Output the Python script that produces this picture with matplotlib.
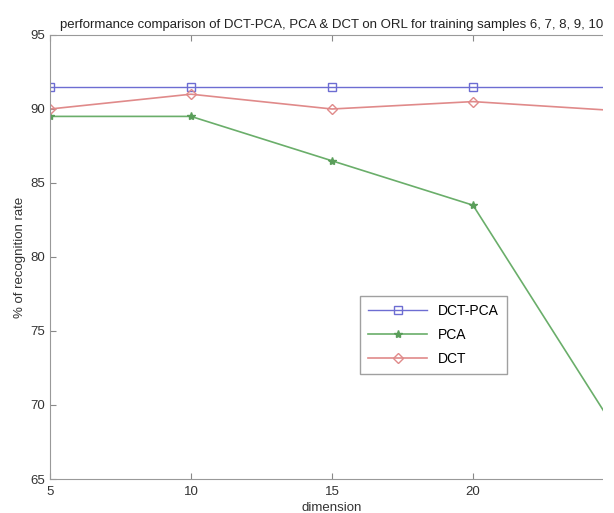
import matplotlib
matplotlib.use("Agg")
from matplotlib import pyplot as plt
from matplotlib.patches import Rectangle

plt.rcParams['font.family'] = ['Liberation Sans', 'DejaVu Sans']

# data
dims = [5, 10, 15, 20, 25]
dct_pca = [91.5, 91.5, 91.5, 91.5, 91.5]
pca = [89.5, 89.5, 86.5, 83.5, 68.5]
dct = [90.0, 91.0, 90.0, 90.5, 89.9]
xticks = [5, 10, 15, 20]
yticks = [65, 70, 75, 80, 85, 90, 95]

W, H = 614, 513
fig = plt.figure(figsize=(W / 100, H / 100), dpi=100)
ax = fig.add_axes([50 / W, (H - 479) / H, (W - 50) / W, 444 / H])

ax.plot(dims, dct_pca, color='#6d6dd2', lw=1, marker='s', ms=6,
        mfc='none', mec='#6d6dd2', label='DCT-PCA')
ax.plot(dims, pca, color='#6aae6a', lw=1.2, marker='*', ms=6,
        mfc='#5a9e5a', mec='#5a9e5a', label='PCA')
ax.plot(dims, dct, color='#e08a8a', lw=1.2, marker='D', ms=5,
        mfc='none', mec='#e08a8a', label='DCT')

ax.set_xlim(5, 25)
ax.set_ylim(65, 95)
ax.set_xticks(xticks)
ax.set_yticks(yticks)
ax.tick_params(direction='in', length=4, top=True, right=True,
               labelsize=9.5, colors='#888888', labelcolor='#333333')
ax.tick_params(axis='x', pad=5)
for s in ax.spines.values():
    s.set_color('#999999')

ax.set_title('performance comparison of DCT-PCA, PCA & DCT on ORL for training samples 6, 7, 8, 9, 10',
             fontsize=9.5, color='#222222', pad=5)
ax.set_xlabel('dimension', fontsize=9.5, color='#333333', labelpad=3)
ax.set_ylabel('% of recognition rate', fontsize=9.5, color='#333333', labelpad=3)

leg = ax.legend(loc='upper left', bbox_to_anchor=(360 / W, 1 - 296 / H),
                bbox_transform=fig.transFigure, borderaxespad=0,
                fancybox=False, fontsize=10, handlelength=4.2,
                labelspacing=0.7, borderpad=0.6)
leg.get_frame().set_edgecolor('#888888')
leg.get_frame().set_linewidth(1)

# the reference is cropped at the right edge
fig.patches.append(Rectangle((603 / W, 0), 11 / W, 1, transform=fig.transFigure,
                             facecolor='white', edgecolor='none', zorder=10))

fig.savefig('out.png', dpi=100)
